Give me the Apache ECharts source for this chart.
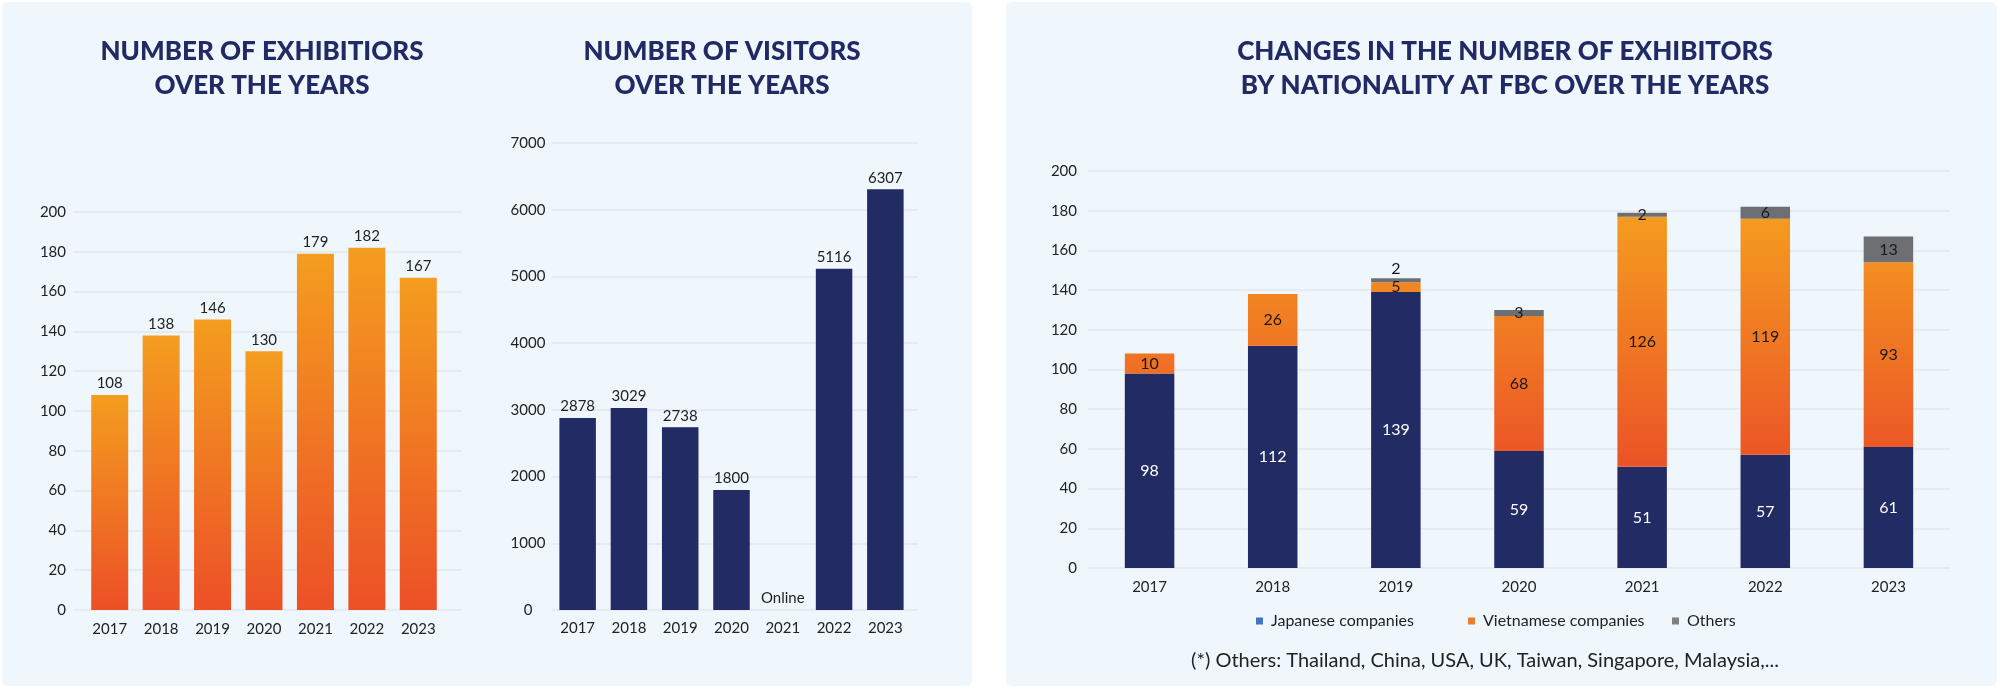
<!DOCTYPE html>
<html>
<head>
<meta charset="utf-8">
<script src="https://cdn.jsdelivr.net/npm/echarts@6/dist/echarts.min.js"></script>
<style>
html,body{margin:0;padding:0;background:#fff;}
#c{width:2000px;height:689px;}
</style>
</head>
<body>
<div id="c"></div>
<script>
// ---- data ----
const years = ['2017', '2018', '2019', '2020', '2021', '2022', '2023'];
const exhibitors = [108, 138, 146, 130, 179, 182, 167];
const visitors = [2878, 3029, 2738, 1800, 0, 5116, 6307];
const visitorNotes = ['', '', '', '', 'Online', '', ''];
const japanese = [98, 112, 139, 59, 51, 57, 61];
const vietnamese = [10, 26, 5, 68, 126, 119, 93];
const others = [null, null, 2, 3, 2, 6, 13];
const seriesNames = ['Japanese companies', 'Vietnamese companies', 'Others'];
const titles = [
  'NUMBER OF EXHIBITIORS\nOVER THE YEARS',
  'NUMBER OF VISITORS\nOVER THE YEARS',
  'CHANGES IN THE NUMBER OF EXHIBITORS\nBY NATIONALITY AT FBC OVER THE YEARS'
];
const footnote = '(*) Others: Thailand, China, USA, UK, Taiwan, Singapore, Malaysia,...';

// ---- style ----
const FONT = 'Lato, "Open Sans", sans-serif';
const NAVY = '#222B64';
const TXT = '#222222';
const GRID_LINE = '#E2E7EC';
const PANEL = '#EFF7FD';

const chart = echarts.init(document.getElementById('c'), null, {renderer: 'canvas'});

function titleCfg(text, x) {
  return {
    text: text, left: x, top: 30, textAlign: 'center',
    textStyle: {fontFamily: FONT, fontSize: 26, fontWeight: 900, lineHeight: 34, color: '#212A64'}
  };
}
const axisLbl = {fontFamily: FONT, fontSize: 15, color: TXT, formatter: v => String(v)};

function hiddenCat(grid) {
  return {type: 'category', gridIndex: grid, data: years, show: false};
}
function labelCat(grid, margin) {
  return {
    type: 'category', gridIndex: grid, data: years,
    axisLine: {show: false}, axisTick: {show: false},
    axisLabel: Object.assign({}, axisLbl, {margin: margin, interval: 0})
  };
}
function valAxis(grid, max, interval, labelOpt, show) {
  return {
    type: 'value', gridIndex: grid, min: 0, max: max, interval: interval,
    show: show,
    axisLine: {show: false}, axisTick: {show: false},
    splitLine: {show: show, lineStyle: {color: GRID_LINE, width: 1.5}},
    axisLabel: Object.assign({}, axisLbl, labelOpt)
  };
}

const orangeBar = new echarts.graphic.LinearGradient(0, 0, 0, 1, [
  {offset: 0, color: '#F49D1F'},
  {offset: 1, color: '#EC5027'}
]);

const othersData = others.map((v, i) =>
  years[i] === '2019' ? {value: v, label: {position: 'top', distance: 1}} : v);

const legendText = {fontFamily: FONT, fontSize: 16, color: TXT, padding: [0, 0, 0, 3]};

const option = {
  backgroundColor: '#ffffff',
  animation: false,
  graphic: [
    {type: 'rect', z: -10, silent: true, shape: {x: 2, y: 2, width: 970, height: 684, r: 6}, style: {fill: PANEL}},
    {type: 'rect', z: -10, silent: true, shape: {x: 1006, y: 2, width: 991, height: 684, r: 6}, style: {fill: PANEL}}
  ],
  title: [
    titleCfg(titles[0], 257),
    titleCfg(titles[1], 717),
    titleCfg(titles[2], 1500),
    {text: footnote, left: 1480, top: 646, textAlign: 'center',
     textStyle: {fontFamily: FONT, fontSize: 20, fontWeight: 'normal', color: TXT}}
  ],
  legend: [
    {left: 1251, top: 608, icon: 'rect', itemWidth: 7, itemHeight: 7,
     data: [{name: seriesNames[0], itemStyle: {color: '#4472C4'}}], textStyle: legendText},
    {left: 1463, top: 608, icon: 'rect', itemWidth: 7, itemHeight: 7,
     data: [{name: seriesNames[1], itemStyle: {color: '#ED7D31'}}], textStyle: legendText},
    {left: 1667, top: 608, icon: 'rect', itemWidth: 7, itemHeight: 7,
     data: [{name: seriesNames[2], itemStyle: {color: '#7F7F7F'}}], textStyle: legendText}
  ],
  grid: [
    {left: 73, top: 212, width: 389, height: 398},
    {left: 84, top: 212, width: 360, height: 398},
    {left: 552, top: 143, width: 366, height: 467},
    {left: 552, top: 143, width: 359, height: 467},
    {left: 1088, top: 171, width: 862, height: 397}
  ],
  xAxis: [
    hiddenCat(0),
    labelCat(1, 12),
    hiddenCat(2),
    labelCat(3, 11),
    labelCat(4, 12)
  ],
  yAxis: [
    valAxis(0, 200, 20, {margin: 7}, true),
    valAxis(1, 200, 20, {}, false),
    valAxis(2, 7000, 1000, {margin: 24, align: 'center'}, true),
    valAxis(3, 7000, 1000, {}, false),
    valAxis(4, 200, 20, {margin: 11}, true)
  ],
  series: [
    {
      type: 'bar', xAxisIndex: 1, yAxisIndex: 1, data: exhibitors, barWidth: 37,
      itemStyle: {color: orangeBar},
      label: {show: true, position: 'top', distance: 4, fontFamily: FONT, fontSize: 15, color: TXT}
    },
    {
      type: 'bar', xAxisIndex: 3, yAxisIndex: 3, data: visitors, barWidth: 36.5,
      itemStyle: {color: NAVY},
      label: {show: true, position: 'top', distance: 4, fontFamily: FONT, fontSize: 15, color: TXT,
              formatter: p => visitorNotes[p.dataIndex] || p.value}
    },
    {
      name: seriesNames[0], type: 'bar', stack: 'nat', xAxisIndex: 4, yAxisIndex: 4,
      data: japanese, barWidth: 49.5, itemStyle: {color: NAVY},
      label: {show: true, position: 'inside', fontFamily: FONT, fontSize: 16, color: '#ffffff'}
    },
    {
      name: seriesNames[1], type: 'bar', stack: 'nat', xAxisIndex: 4, yAxisIndex: 4,
      data: vietnamese, barWidth: 49.5, itemStyle: {color: '#F08A28'},
      label: {show: true, position: 'inside', fontFamily: FONT, fontSize: 16, color: '#1a1a1a'}
    },
    {
      name: seriesNames[2], type: 'bar', stack: 'nat', xAxisIndex: 4, yAxisIndex: 4,
      data: othersData, barWidth: 49.5, itemStyle: {color: '#6E6F73'},
      label: {show: true, position: 'inside', fontFamily: FONT, fontSize: 16, color: '#1a1a1a'}
    }
  ]
};
chart.setOption(option);

// global vertical gradient for the Vietnamese segments, anchored on the y scale
const yTop = chart.convertToPixel({yAxisIndex: 4}, 185);
const yBot = chart.convertToPixel({yAxisIndex: 4}, 45);
chart.setOption({
  series: [{}, {}, {}, {
    itemStyle: {
      color: new echarts.graphic.LinearGradient(0, yTop, 0, yBot, [
        {offset: 0, color: '#F5A01F'},
        {offset: 1, color: '#EB4F27'}
      ], true)
    }
  }, {}]
});
</script>
</body>
</html>
